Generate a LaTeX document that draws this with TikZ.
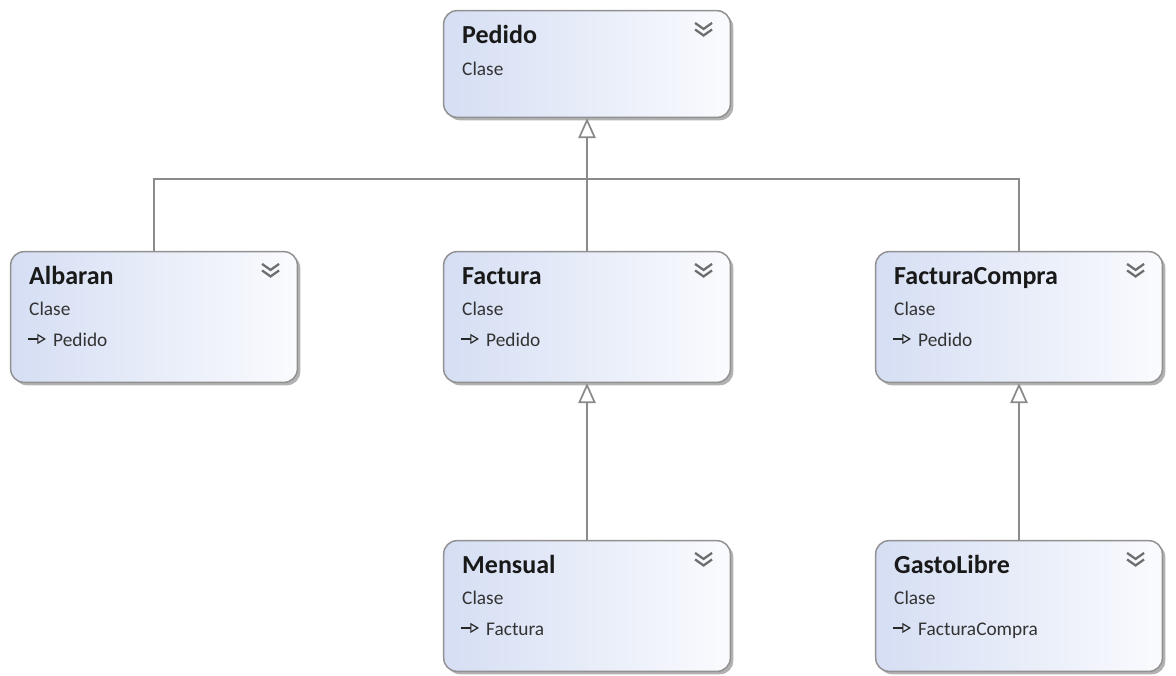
\documentclass[tikz,border=0pt]{standalone}
\usepackage{fontspec}
\setmainfont{Carlito}
\definecolor{boxleft}{RGB}{213,222,243}
\definecolor{boxright}{RGB}{250,251,254}
\definecolor{boxedge}{RGB}{145,145,145}
\definecolor{wire}{RGB}{138,138,138}
\definecolor{chevgray}{RGB}{110,110,110}
\usetikzlibrary{arrows.meta,positioning,calc,shadows}

\begin{document}
\begin{tikzpicture}[x=0.75pt, y=-0.75pt,
  cls/.style={draw=boxedge, line width=1.1pt, rounded corners=10pt,
    left color=boxleft, right color=boxright,
    minimum width=215pt, minimum height=98pt, inner sep=0pt,
    drop shadow={shadow xshift=2.2pt, shadow yshift=-2.2pt, fill=black, opacity=.3}},
  title/.style={anchor=base west, inner sep=0pt, text=black!90, font=\fontsize{19.5}{22}\selectfont\bfseries},
  sub/.style={anchor=base west, inner sep=0pt, text=black!80, font=\fontsize{14.5}{17}\selectfont},
  inh/.style={draw=wire, line width=1.3pt, -{Triangle[length=15pt, width=13pt, fill=white]}},
  bus/.style={draw=wire, line width=1.3pt},
  glyph/.style={draw=black!85, line width=0.9pt, -{Triangle[open, length=6.5pt, width=7.5pt]}},
  chev/.style={draw=chevgray, line width=1.7pt}]
\fill[white] (0,0) rectangle (1176,675);
\useasboundingbox (0,0) rectangle (1176,675);

% class boxes
\node[cls, minimum height=80pt] (pedido) at (587,64) {};
\node[cls] (albaran) at (154,317) {};
\node[cls] (factura) at (587,317) {};
\node[cls] (compra) at (1019,317) {};
\node[cls] (mensual) at (587,606) {};
\node[cls] (gasto) at (1019,606) {};

% root class has no base line
\node[title] (pedido-t) at ($(pedido.north west)+(19,34)$) {Pedido};
\node[sub] (pedido-s) at ($(pedido.north west)+(19,66)$) {Clase};

\foreach \n/\t/\p in {albaran/Albaran/Pedido, factura/Factura/Pedido,
    compra/FacturaCompra/Pedido, mensual/Mensual/Factura, gasto/GastoLibre/FacturaCompra} {
  \node[title] (\n-t) at ($(\n.north west)+(19,34)$) {\t};
  \node[sub] (\n-s) at ($(\n.north west)+(19,65)$) {Clase};
  \draw[glyph] ($(\n.north west)+(18,88)$) -- ++(18,0);
  \node[sub] (\n-p) at ($(\n.north west)+(43,96)$) {\p};
}

% collapse chevrons
\foreach \n in {pedido,albaran,factura,compra,mensual,gasto} {
  \draw[chev] ($(\n.north east)+(-36,13)$) -- ++(8.5,6) -- ++(8.5,-6)
    ++(-17,6.5) -- ++(8.5,6) -- ++(8.5,-6);
}

% inheritance
\coordinate (join) at (587,179);
\draw[bus] (albaran.north) |- (join);
\draw[bus] (compra.north) |- (join);
\draw[inh] (factura.north) -- (pedido.south);
\draw[inh] (mensual.north) -- (factura.south);
\draw[inh] (gasto.north) -- (compra.south);
\end{tikzpicture}
\end{document}
